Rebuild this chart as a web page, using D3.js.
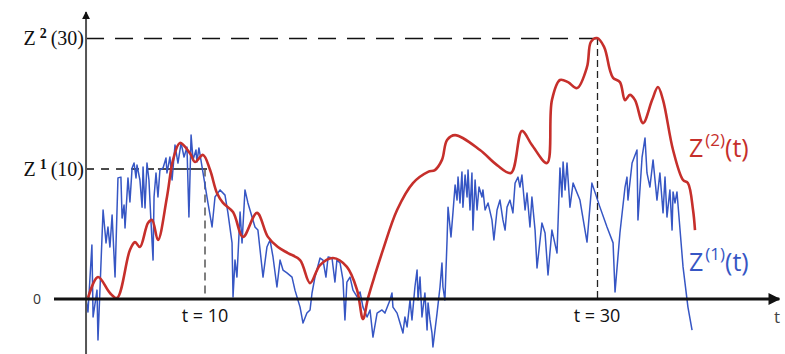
<!DOCTYPE html>
<html lang="en">
<head>
    <meta charset="UTF-8">
    <title>Running maxima Z1 / Z2</title>
    <script src="https://d3js.org/d3.v7.min.js"></script>
    <style>
        html, body { margin: 0; padding: 0; background: #fff; }
        svg { display: block; }
        .serif { font-family: "Liberation Serif", "DejaVu Serif", serif; }
        .sans { font-family: "Open Sans", "Noto Sans", sans-serif; }
    </style>
</head>
<body>
    <div id="chart"></div>

    <script>
        // Z(1)(t): [t, value]
        const z1Points = [
            [3.93, 0], [4.03, -0.50], [4.23, 2.07], [4.29, -0.69], [4.49, 0.34], [4.54, -1.57], [4.80, 3.41], [4.95, 2.15], [5.05, 2.76], [5.15, 1.99],
            [5.26, 3.22], [5.41, 0.84], [5.56, 4.64], [5.71, 4.67], [5.77, 3.10], [5.87, 3.60], [5.92, 2.72], [6.07, 4.64], [6.17, 3.72], [6.28, 5.02],
            [6.38, 5.21], [6.48, 4.64], [6.53, 5.13], [6.68, 4.56], [6.79, 3.52], [6.84, 5.06], [6.94, 3.49], [7.04, 5.21], [7.14, 4.56], [7.24, 3.03],
            [7.35, 1.49], [7.40, 3.91], [7.50, 4.83], [7.60, 3.91], [7.70, 4.94], [7.86, 5.02], [8.01, 5.40], [8.06, 4.83], [8.21, 5.44], [8.32, 4.56],
            [8.47, 5.90], [8.62, 5.21], [8.78, 5.98], [8.93, 5.44], [9.08, 5.82], [9.18, 3.14], [9.29, 6.28], [9.39, 5.33], [9.54, 5.71], [9.59, 5.25],
            [9.69, 5.79], [9.85, 5.06], [10.00, 4.37], [10.15, 3.68], [10.36, 2.76], [10.51, 3.91], [10.77, 4.18], [11.02, 3.98], [11.17, 3.30], [11.38, 2.15],
            [11.43, 0.08], [11.53, 1.49], [11.63, 0.84], [11.79, 3.33], [11.89, 2.15], [12.04, 4.18], [12.19, 3.68], [12.55, 2.76], [12.70, 2.64], [12.96, 0.84],
            [13.16, 1.99], [13.32, 2.26], [13.47, 1.61], [13.67, 0.46], [13.83, 1.49], [13.98, 1.11], [14.18, 1.00], [14.44, 0.84], [14.59, 0.34], [14.85, -0.31],
            [15.00, -0.92], [15.20, -0.54], [15.36, -0.42], [15.46, 0.23], [15.61, 0.84], [15.87, 1.57], [16.02, 1.49], [16.17, 0.84], [16.28, 1.61], [16.48, 1.57],
            [16.63, 0.65], [16.73, 1.49], [16.89, 1.38], [17.04, 0.73], [17.14, -0.80], [17.24, 0.65], [17.40, 0.84], [17.55, 0.34], [17.76, 0.08], [17.91, 0.27],
            [18.06, -0.31], [18.27, -0.69], [18.42, -0.42], [18.57, -1.46], [18.78, -0.54], [19.03, -0.42], [19.18, -0.54], [19.44, -0.04], [19.54, 0.23], [19.59, -0.31],
            [19.80, -0.54], [19.95, -0.92], [20.10, -1.30], [20.20, -0.69], [20.31, -1.07], [20.46, -0.04], [20.56, -0.80], [20.71, 0.46], [20.82, 1.11], [20.87, -0.04],
            [20.97, 0.84], [21.07, -0.69], [21.22, 0.23], [21.33, -1.19], [21.38, -0.15], [21.48, -0.80], [21.58, -1.30], [21.63, -1.84], [21.84, -0.54], [21.99, 0.46],
            [22.09, 1.38], [22.14, 0.46], [22.24, -0.04], [22.35, 2.26], [22.40, 3.52], [22.55, 2.38], [22.65, 3.30], [22.76, 4.37], [22.86, 3.79], [22.91, 4.67],
            [23.01, 3.68], [23.11, 4.87], [23.16, 3.52], [23.27, 4.75], [23.37, 3.91], [23.42, 4.94], [23.52, 3.41], [23.62, 4.83], [23.67, 2.64], [23.78, 4.56],
            [23.88, 3.41], [23.98, 4.29], [24.13, 3.91], [24.18, 4.18], [24.29, 3.41], [24.44, 3.68], [24.64, 3.03], [24.74, 2.26], [24.90, 3.41], [25.05, 3.79],
            [25.20, 3.03], [25.31, 2.64], [25.41, 3.52], [25.56, 3.79], [25.71, 3.30], [25.82, 4.44], [25.97, 4.67], [26.07, 4.29], [26.17, 4.75], [26.33, 3.41],
            [26.43, 4.06], [26.58, 2.76], [26.68, 3.91], [26.84, 2.64], [26.94, 1.19], [27.19, 2.91], [27.35, 2.53], [27.50, 0.92], [27.70, 2.64], [27.96, 1.76],
            [28.11, 5.02], [28.21, 3.91], [28.27, 5.25], [28.37, 4.18], [28.47, 5.21], [28.62, 3.52], [28.78, 4.44], [29.13, 3.79], [29.49, 2.18], [29.74, 4.44],
            [30.15, 3.52], [30.51, 2.76], [30.82, 2.15], [30.92, 0.27], [31.17, 2.53], [31.43, 4.29], [31.53, 4.67], [31.58, 3.79], [31.79, 5.21], [32.04, 5.71],
            [32.09, 3.03], [32.30, 5.44], [32.45, 6.17], [32.55, 4.83], [32.70, 4.29], [32.86, 5.33], [33.06, 3.79], [33.21, 4.83], [33.37, 3.30], [33.47, 4.67],
            [33.57, 3.14], [33.72, 4.18], [33.83, 2.64], [33.88, 4.10], [33.98, 3.68], [34.08, 4.10], [34.39, 1.23], [34.64, -0.31], [34.85, -1.19]
        ];

        // Z(2)(t): [t, value]
        const z2Points = [
            [4.03, 0.04], [4.54, 0.84], [5.15, 0.23], [5.51, 0.04], [6.17, 1.88], [6.43, 2.18], [6.68, 1.99], [7.09, 2.91], [7.30, 3.03], [7.60, 2.26],
            [8.06, 3.91], [8.37, 5.33], [8.72, 5.98], [9.23, 5.59], [9.49, 5.25], [9.90, 5.52], [10.26, 4.94], [10.61, 4.06], [10.92, 3.68], [11.43, 3.33],
            [11.94, 2.38], [12.65, 3.30], [13.21, 2.38], [13.72, 1.99], [14.23, 1.76], [14.85, 1.49], [15.36, 0.61], [15.87, 1.30], [16.53, 1.57], [17.24, 1.23],
            [17.76, 0.34], [18.06, -0.77], [18.32, 0.04], [18.67, 0.92], [19.08, 1.88], [19.80, 3.41], [20.61, 4.44], [21.38, 4.87], [21.73, 4.94], [22.09, 5.33],
            [22.35, 6.09], [22.76, 6.28], [24.03, 5.71], [24.90, 5.13], [25.61, 4.83], [26.17, 6.44], [26.68, 5.90], [27.45, 5.21], [27.70, 7.62], [28.11, 8.39],
            [28.52, 8.31], [28.98, 8.08], [29.49, 8.89], [29.69, 9.85], [30.00, 10.00], [30.36, 9.66], [30.66, 8.77], [30.82, 8.47], [31.17, 8.31], [31.43, 7.62],
            [31.68, 7.82], [31.94, 7.62], [32.35, 6.74], [32.81, 7.62], [33.11, 8.12], [33.37, 7.62], [33.88, 5.71], [34.39, 4.56], [34.64, 4.44], [34.90, 3.41],
            [35.00, 2.64]
        ];

        // marked levels / times
        const markT = [10, 30];
        const markZ = [5, 10];      // Z1(10), Z2(30)
        const markNames = ["1", "2"];

        const W = 785, H = 354;
        const red = "#c62f2b";
        const blue = "#3656c4";

        const svg = d3.select("#chart").append("svg")
            .attr("width", W)
            .attr("height", H);

        // t = 10 -> 205px, t = 30 -> 597px ; Z = 0 -> 299px, Z = 10 -> 38px
        const x = d3.scaleLinear().domain([10, 30]).range([205, 597]);
        const y = d3.scaleLinear().domain([0, 10]).range([299, 38]);

        const axisX0 = x(3.93);
        const xEnd = x(39.3);

        // arrowheads
        const defs = svg.append("defs");
        defs.append("marker")
            .attr("id", "arrow")
            .attr("viewBox", "0 0 10 10")
            .attr("refX", 9).attr("refY", 5)
            .attr("markerWidth", 4).attr("markerHeight", 4)
            .attr("orient", "auto")
            .attr("markerUnits", "strokeWidth")
            .append("path")
            .attr("d", "M0,0 L10,5 L0,10 z")
            .attr("fill", "#111");

        // dashed guides
        svg.append("line")
            .attr("x1", axisX0).attr("x2", x(markT[1]))
            .attr("y1", y(markZ[1]) + 0.5).attr("y2", y(markZ[1]) + 0.5)
            .attr("stroke", "#111").attr("stroke-width", 1.3)
            .attr("stroke-dasharray", "18,11");

        svg.append("line")
            .attr("x1", x(markT[1]) + 0.5).attr("x2", x(markT[1]) + 0.5)
            .attr("y1", y(markZ[1])).attr("y2", y(0))
            .attr("stroke", "#222").attr("stroke-width", 1.3)
            .attr("stroke-dasharray", "7,4");

        svg.append("line")
            .attr("x1", axisX0).attr("x2", x(7.6))
            .attr("y1", y(markZ[0]) + 0.5).attr("y2", y(markZ[0]) + 0.5)
            .attr("stroke", "#111").attr("stroke-width", 1.3)
            .attr("stroke-dasharray", "8,7");

        svg.append("line")
            .attr("x1", x(7.6)).attr("x2", x(markT[0]) + 2)
            .attr("y1", y(markZ[0]) + 0.5).attr("y2", y(markZ[0]) + 0.5)
            .attr("stroke", "#111").attr("stroke-width", 1.5);

        svg.append("line")
            .attr("x1", x(markT[0])).attr("x2", x(markT[0]))
            .attr("y1", y(markZ[0])).attr("y2", y(0))
            .attr("stroke", "#555").attr("stroke-width", 1.5)
            .attr("stroke-dasharray", "8,5");

        // curves
        const line = d3.line()
            .x(d => x(d[0]))
            .y(d => y(d[1]));

        svg.append("path")
            .datum(z1Points)
            .attr("fill", "none")
            .attr("stroke", blue)
            .attr("stroke-width", 1.5)
            .attr("stroke-linejoin", "round")
            .attr("d", line.curve(d3.curveLinear));

        svg.append("path")
            .datum(z2Points)
            .attr("fill", "none")
            .attr("stroke", red)
            .attr("stroke-width", 2.6)
            .attr("stroke-linejoin", "round")
            .attr("d", line.curve(d3.curveCatmullRom.alpha(0.5)));

        // axes
        svg.append("line")
            .attr("x1", axisX0).attr("x2", axisX0)
            .attr("y1", H).attr("y2", 12)
            .attr("stroke", "#555").attr("stroke-width", 2)
            .attr("marker-end", "url(#arrow)");

        svg.append("line")
            .attr("x1", 54).attr("x2", xEnd)
            .attr("y1", y(0)).attr("y2", y(0))
            .attr("stroke", "#111").attr("stroke-width", 3)
            .attr("marker-end", "url(#arrow)");

        // labels
        svg.append("text")
            .attr("class", "sans")
            .attr("x", 37).attr("y", y(0) + 5)
            .attr("text-anchor", "middle")
            .attr("font-size", 14).attr("fill", "#333")
            .text("0");

        svg.append("text")
            .attr("class", "sans")
            .attr("x", 774).attr("y", 323)
            .attr("font-size", 17).attr("fill", "#444")
            .text("t");

        markT.forEach(t => {
            svg.append("text")
                .attr("class", "sans")
                .attr("x", x(t)).attr("y", 322)
                .attr("text-anchor", "middle")
                .attr("font-size", 18).attr("fill", "#111")
                .text(`t = ${t}`);
        });

        // Z^k(t) labels on the left
        markZ.forEach((z, i) => {
            const txt = svg.append("text")
                .attr("class", "serif")
                .attr("x", 84).attr("y", y(z) + 7)
                .attr("text-anchor", "end")
                .attr("font-size", 20).attr("fill", "#111");
            txt.append("tspan").text("Z");
            txt.append("tspan")
                .attr("font-size", 14).attr("font-weight", "bold")
                .attr("dy", -7).attr("dx", 4)
                .text(markNames[i]);
            txt.append("tspan")
                .attr("dy", 7).attr("dx", 4)
                .text(`(${markT[i]})`);
        });

        // series labels
        const seriesLabels = [
            { name: "2", color: red, at: 148 },
            { name: "1", color: blue, at: 262 }
        ];
        seriesLabels.forEach(s => {
            const txt = svg.append("text")
                .attr("class", "sans")
                .attr("x", 689).attr("y", s.at + 9)
                .attr("font-size", 25).attr("fill", s.color);
            txt.append("tspan").text("Z");
            txt.append("tspan")
                .attr("font-size", 17)
                .attr("dy", -11).attr("dx", 2)
                .text(`(${s.name})`);
            txt.append("tspan")
                .attr("dy", 11)
                .text("(t)");
        });
    </script>
</body>
</html>
